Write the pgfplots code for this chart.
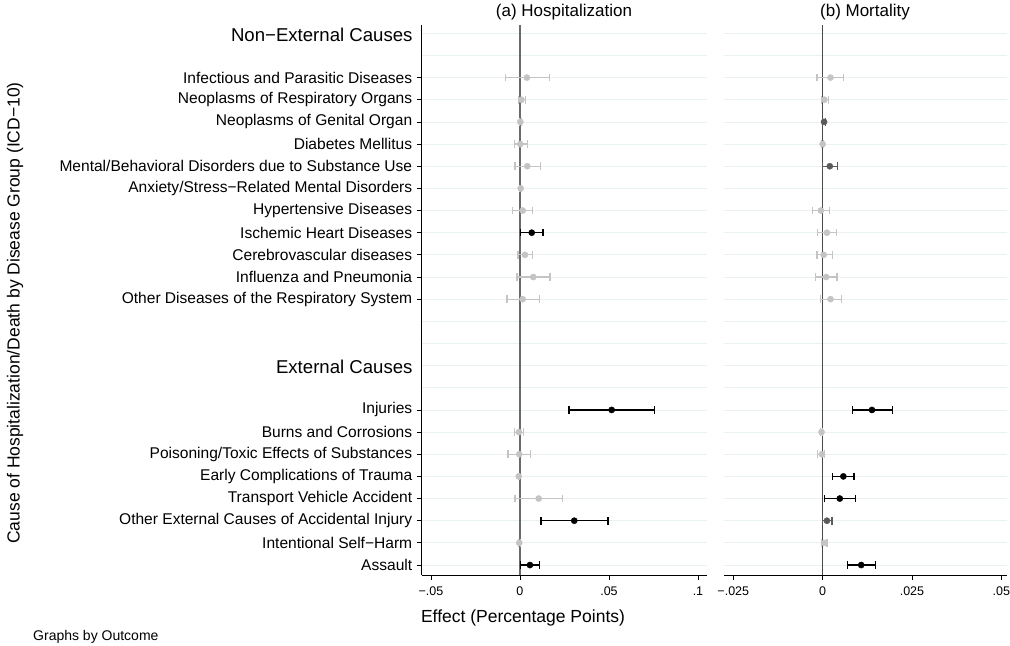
\documentclass[border=0pt]{standalone}
\usepackage{fontspec}
\setmainfont{Liberation Sans}
\usepackage{pgfplots}
\pgfplotsset{compat=1.18}
\usepackage{pgfplotstable}

\definecolor{lgray}{HTML}{C4C4C4}
\definecolor{dgray}{HTML}{5A5A5A}
\definecolor{gridc}{HTML}{EAF1F3}
\definecolor{zeroc}{HTML}{6A6A6A}

% row  estimate  lower  upper
\pgfplotstableread{
r b lo hi
2 0.0039 -0.0080 0.0165
3 0.0008 -0.0010 0.0030
4 0.0002 -0.0004 0.0008
5 0.0002 -0.0032 0.0041
6 0.0041 -0.0028 0.0114
7 0.0004 -0.0002 0.0009
8 0.0015 -0.0041 0.0069
10 0.0028 -0.0011 0.0069
11 0.0075 -0.0017 0.0169
12 0.0015 -0.0073 0.0108
18 -0.0006 -0.0032 0.0021
19 -0.0004 -0.0067 0.0058
20 -0.0007 -0.0010 -0.0004
21 0.0105 -0.0028 0.0238
23 -0.0004 -0.0008 0.0001
}\hospLight
\pgfplotstableread{
r b lo hi
9 0.0066 0.0002 0.0129
17 0.0515 0.0275 0.0757
22 0.0305 0.0118 0.0494
24 0.0056 0.0002 0.0111
}\hospBlack
\pgfplotstableread{
r b lo hi
2 0.0022 -0.0016 0.0059
3 0.0005 -0.0004 0.0016
5 0.0000 -0.0003 0.0003
8 -0.0005 -0.0029 0.0020
9 0.0012 -0.0015 0.0038
10 0.0003 -0.0016 0.0027
11 0.0010 -0.0021 0.0040
12 0.0022 -0.0006 0.0053
18 -0.0003 -0.0005 -0.0001
19 -0.0002 -0.0014 0.0006
23 0.0004 -0.0004 0.0012
}\mortLight
\pgfplotstableread{
r b lo hi
4 0.0004 -0.0001 0.0008
6 0.0020 -0.0001 0.0041
22 0.0012 -0.0001 0.0026
}\mortDark
\pgfplotstableread{
r b lo hi
17 0.0138 0.0083 0.0195
20 0.0058 0.0027 0.0088
21 0.0048 0.0006 0.0092
24 0.0108 0.0070 0.0147
}\mortBlack

\pgfplotsset{
  panel/.style={
    scale only axis,
    height=550bp,
    y dir=reverse,
    ymin=-0.375, ymax=24.45,
    ytick={0,...,24},
    yticklabels={},
    major tick length=5bp,
    tick align=outside,
    ytick style={draw=none},
    ymajorgrids,
    grid style={gridc, line width=0.8pt},
    axis x line*=bottom,
    axis y line*=left,
    axis line style={black, line width=0.8pt, -},
    xtick style={black, line width=0.8pt},
    scaled x ticks=false,
    x tick label style={font=\fontsize{12.5bp}{14bp}\selectfont, yshift=-3bp},
    clip=false,
  },
  est/.style={
    only marks,
    mark=*,
    mark size=3.1bp,
    mark options={draw=#1, fill=#1},
    error bars/.cd,
      x dir=both, x explicit,
      error bar style={#1, line width=1.2pt},
      error mark options={#1, line width=1.2pt, mark size=3.8bp, rotate=90},
  },
}

\begin{document}
\begin{tikzpicture}[x=1bp,y=1bp]
\useasboundingbox (0,0) rectangle (1010,646);

% ---------------- (a) Hospitalization ----------------
\begin{axis}[panel,
  at={(421.7bp,71bp)}, anchor=south west,
  width=285bp,
  xmin=-0.0552, xmax=0.1049,
  xtick={-0.05,0,0.05,0.1},
  xticklabels={−.05,0,.05,.1},
  extra y ticks={2,3,4,5,6,7,8,9,10,11,12,17,18,19,20,21,22,23,24},
  extra y tick labels={
    Infectious and Parasitic Diseases,
    Neoplasms of Respiratory Organs,
    Neoplasms of Genital Organ,
    Diabetes Mellitus,
    Mental/Behavioral Disorders due to Substance Use,
    Anxiety/Stress−Related Mental Disorders,
    Hypertensive Diseases,
    Ischemic Heart Diseases,
    Cerebrovascular diseases,
    Influenza and Pneumonia,
    Other Diseases of the Respiratory System,
    Injuries,
    Burns and Corrosions,
    Poisoning/Toxic Effects of Substances,
    Early Complications of Trauma,
    Transport Vehicle Accident,
    Other External Causes of Accidental Injury,
    Intentional Self−Harm,
    Assault},
  extra y tick style={grid=none,
    ytick style={draw=black, line width=0.8pt},
    tick label style={font=\fontsize{15.55bp}{17bp}\selectfont, xshift=-1bp}},
]
\addplot[zeroc, line width=1.2pt] coordinates {(0,-0.375) (0,24.45)};
\addplot[est=lgray] table[x=b, y=r,
   x error plus expr=\thisrow{hi}-\thisrow{b},
   x error minus expr=\thisrow{b}-\thisrow{lo}] {\hospLight};
\addplot[est=black] table[x=b, y=r,
   x error plus expr=\thisrow{hi}-\thisrow{b},
   x error minus expr=\thisrow{b}-\thisrow{lo}] {\hospBlack};
\node[anchor=east, font=\fontsize{18.6bp}{20bp}\selectfont, inner sep=0pt]
  at ([xshift=-9bp, yshift=-2bp]axis cs:-0.0552,0) {Non−External Causes};
\node[anchor=east, font=\fontsize{18.6bp}{20bp}\selectfont, inner sep=0pt]
  at ([xshift=-9bp, yshift=-1bp]axis cs:-0.0552,15) {External Causes};
\end{axis}

% ---------------- (b) Mortality ----------------
\begin{axis}[panel,
  at={(724bp,71bp)}, anchor=south west,
  width=283bp,
  xmin=-0.0276, xmax=0.0516,
  xtick={-0.025,0,0.025,0.05},
  xticklabels={−.025,0,.025,.05},
  y axis line style={draw=none},
]
\addplot[zeroc!70!black, line width=1.0pt] coordinates {(0,-0.375) (0,24.45)};
\addplot[est=lgray] table[x=b, y=r,
   x error plus expr=\thisrow{hi}-\thisrow{b},
   x error minus expr=\thisrow{b}-\thisrow{lo}] {\mortLight};
\addplot[est=dgray] table[x=b, y=r,
   x error plus expr=\thisrow{hi}-\thisrow{b},
   x error minus expr=\thisrow{b}-\thisrow{lo}] {\mortDark};
\addplot[est=black] table[x=b, y=r,
   x error plus expr=\thisrow{hi}-\thisrow{b},
   x error minus expr=\thisrow{b}-\thisrow{lo}] {\mortBlack};
\end{axis}

% titles and labels
\node[font=\fontsize{17bp}{19bp}\selectfont] at (564,634) {(a) Hospitalization};
\node[font=\fontsize{17bp}{19bp}\selectfont] at (865,634) {(b) Mortality};
\node[font=\fontsize{17.5bp}{19bp}\selectfont] at (523,28) {Effect (Percentage Points)};
\node[font=\fontsize{17.5bp}{19bp}\selectfont, rotate=90] at (15,333)
  {Cause of Hospitalization/Death by Disease Group (ICD−10)};
\node[font=\fontsize{14bp}{16bp}\selectfont, anchor=west, inner sep=0pt] at (33,9) {Graphs by Outcome};
\end{tikzpicture}
\end{document}
